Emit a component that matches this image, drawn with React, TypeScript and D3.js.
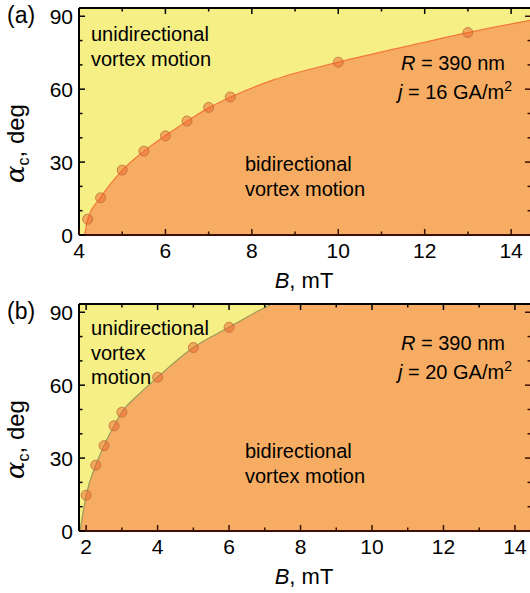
import React, { useEffect, useRef } from 'react';
import * as d3 from 'd3';

// panel (a), j = 16 GA/m2 : measured critical angles
const fieldA = [4.2, 4.5, 5, 5.5, 6, 6.5, 7, 7.5, 10, 13];
const angleA = [6.5, 15.3, 26.7, 34.5, 40.8, 46.9, 52.5, 56.8, 71.1, 83.3];
// boundary line
const edgeFieldA = [4.13, 4.2, 4.5, 5, 5.5, 6, 6.5, 7, 7.5, 8.5, 10, 11.5, 13, 14.46];
const edgeAngleA = [0, 6.3, 15.4, 26.6, 34.4, 40.9, 46.8, 52.3, 56.7, 63.8, 71.1, 77.3, 83.3, 88.4];

// panel (b), j = 20 GA/m2
const fieldB = [2, 2.27, 2.5, 2.78, 3, 4, 5, 6];
const angleB = [14.7, 27.1, 35.1, 43.3, 48.9, 63.3, 75.5, 83.8];
const edgeFieldB = [1.83, 2, 2.27, 2.5, 2.78, 3, 3.5, 4, 5, 6, 7.2, 7.8];
const edgeAngleB = [0, 14.7, 27.1, 35.1, 43.3, 48.9, 56.6, 63.3, 75.5, 83.8, 93.4, 97];

const xTicksA = [4, 6, 8, 10, 12, 14];
const xTicksB = [2, 4, 6, 8, 10, 12, 14];
const yTicks = [0, 30, 60, 90];
const yMinor = [10, 20, 40, 50, 70, 80];

const FONT = 'Liberation Sans, Arial, Helvetica, sans-serif';
const YELLOW = '#f5ef86';
const ORANGE = '#f6ad63';

function drawPanel(svg, p) {
  const x = d3.scaleLinear().domain(p.xDomain).range([p.left, p.right]);
  const y = d3.scaleLinear().domain([0, 93.4]).range([p.bottom, p.top]);
  const g = svg.append('g');
  const clipId = 'clip-' + p.key;

  g.append('clipPath').attr('id', clipId)
    .append('rect')
    .attr('x', p.left).attr('y', p.top)
    .attr('width', p.right - p.left).attr('height', p.bottom - p.top);

  const plot = g.append('g').attr('clip-path', `url(#${clipId})`);
  plot.append('rect')
    .attr('x', p.left).attr('y', p.top)
    .attr('width', p.right - p.left).attr('height', p.bottom - p.top)
    .attr('fill', YELLOW);

  const edge = p.edgeField.map((b, i) => [b, p.edgeAngle[i]]);
  const line = d3.line().x(d => x(d[0])).y(d => y(d[1])).curve(d3.curveMonotoneX);
  const last = edge[edge.length - 1];
  const xMax = p.xDomain[1];
  const areaPath = line(edge)
    + `L${x(xMax)},${y(last[1])}L${x(xMax)},${y(0)}L${x(edge[0][0])},${y(0)}Z`;
  plot.append('path').attr('d', areaPath).attr('fill', ORANGE);
  plot.append('path').attr('d', line(edge))
    .attr('fill', 'none').attr('stroke', p.lineColor).attr('stroke-width', 1.2);

  // points
  g.selectAll('circle.pt')
    .data(p.field.map((b, i) => [b, p.angle[i]]))
    .join('circle')
    .attr('class', 'pt')
    .attr('cx', d => x(d[0])).attr('cy', d => y(d[1]))
    .attr('r', 5)
    .attr('fill', 'rgba(238,100,45,0.5)')
    .attr('stroke', 'rgba(185,105,60,0.75)')
    .attr('stroke-width', 1);

  // frame
  const frame = g.append('g').attr('fill', 'none');
  frame.append('line').attr('x1', p.left).attr('x2', p.right).attr('y1', p.top).attr('y2', p.top)
    .attr('stroke', '#000').attr('stroke-width', 2);
  frame.append('line').attr('x1', p.left).attr('x2', p.right).attr('y1', p.bottom).attr('y2', p.bottom)
    .attr('stroke', '#3d0f05').attr('stroke-width', 2);
  frame.append('line').attr('x1', p.left).attr('x2', p.left).attr('y1', p.top).attr('y2', p.bottom)
    .attr('stroke', '#000').attr('stroke-width', 2);
  frame.append('line').attr('x1', p.right).attr('x2', p.right).attr('y1', p.top).attr('y2', p.bottom)
    .attr('stroke', '#000').attr('stroke-width', 2);

  // x ticks (major + minor) top and bottom, inward
  const xMinor = d3.range(Math.ceil(p.xDomain[0]), Math.floor(xMax) + 1).filter(v => v % 2 !== 0);
  const tk = g.append('g').attr('stroke-width', 1.5);
  p.xTicks.forEach(v => {
    tk.append('line').attr('x1', x(v)).attr('x2', x(v)).attr('y1', p.bottom).attr('y2', p.bottom - 6).attr('stroke', '#3d0f05');
    tk.append('line').attr('x1', x(v)).attr('x2', x(v)).attr('y1', p.top).attr('y2', p.top + 6).attr('stroke', '#000');
  });
  xMinor.forEach(v => {
    tk.append('line').attr('x1', x(v)).attr('x2', x(v)).attr('y1', p.bottom).attr('y2', p.bottom - 3.5).attr('stroke', '#3d0f05');
    tk.append('line').attr('x1', x(v)).attr('x2', x(v)).attr('y1', p.top).attr('y2', p.top + 3.5).attr('stroke', '#000');
  });
  yTicks.forEach(v => {
    tk.append('line').attr('x1', p.left).attr('x2', p.left + 6).attr('y1', y(v)).attr('y2', y(v)).attr('stroke', '#000');
    tk.append('line').attr('x1', p.right).attr('x2', p.right - 6).attr('y1', y(v)).attr('y2', y(v)).attr('stroke', '#3d0f05');
  });
  yMinor.forEach(v => {
    tk.append('line').attr('x1', p.left).attr('x2', p.left + 3.5).attr('y1', y(v)).attr('y2', y(v)).attr('stroke', '#000');
    tk.append('line').attr('x1', p.right).attr('x2', p.right - 3.5).attr('y1', y(v)).attr('y2', y(v)).attr('stroke', '#3d0f05');
  });

  // tick labels
  const txt = g.append('g').attr('font-family', FONT).attr('fill', '#000');
  txt.selectAll('text.xt').data(p.xTicks).join('text')
    .attr('class', 'xt')
    .attr('x', d => x(d)).attr('y', p.bottom + 23)
    .attr('text-anchor', 'middle').attr('font-size', 21)
    .text(d => d);
  txt.selectAll('text.yt').data(yTicks).join('text')
    .attr('class', 'yt')
    .attr('x', p.left - 6).attr('y', d => y(d)).attr('dy', '0.36em')
    .attr('text-anchor', 'end').attr('font-size', 21)
    .text(d => d);

  // axis titles
  const xt = txt.append('text')
    .attr('x', (p.left + 529) / 2).attr('y', p.bottom + 53)
    .attr('text-anchor', 'middle').attr('font-size', 22);
  xt.append('tspan').attr('font-style', 'italic').text('B');
  xt.append('tspan').text(', mT');

  const yt = txt.append('text')
    .attr('transform', `translate(24,${(p.top + p.bottom) / 2 + 22}) rotate(-90)`)
    .attr('text-anchor', 'middle').attr('font-size', 24);
  yt.append('tspan').attr('font-style', 'italic').attr('font-family', 'DejaVu Serif, serif').attr('font-size', 26).text('α');
  yt.append('tspan').attr('font-size', 16).attr('dy', 5).text('c');
  yt.append('tspan').attr('dy', -5).text(', deg');

  // panel letter
  txt.append('text').attr('x', 7).attr('y', p.top + 15).attr('font-size', 23).text(p.name);

  // region labels
  p.uniLines.forEach((s, i) => {
    txt.append('text').attr('x', 91).attr('y', p.uniY + i * 24.5).attr('font-size', 20).text(s);
  });
  p.biLines.forEach((s, i) => {
    txt.append('text').attr('x', 245).attr('y', p.biY + i * 25).attr('font-size', 20).text(s);
  });

  const r1 = txt.append('text').attr('x', 401).attr('y', p.annY).attr('font-size', 20);
  r1.append('tspan').attr('font-style', 'italic').text('R');
  r1.append('tspan').text(' = 390 nm');
  const r2 = txt.append('text').attr('x', 398).attr('y', p.annY + 28.5).attr('font-size', 20);
  r2.append('tspan').attr('font-style', 'italic').text('j');
  r2.append('tspan').text(` = ${p.current} GA/m`);
  r2.append('tspan').attr('font-size', 14).attr('dy', -8).text('2');
}

export default function App() {
  const ref = useRef(null);

  useEffect(() => {
    const svg = d3.select(ref.current);
    svg.selectAll('*').remove();

    drawPanel(svg, {
      key: 'a', name: '(a)', top: 8, bottom: 235, left: 79, right: 531,
      xDomain: [4, 14.46], xTicks: xTicksA,
      field: fieldA, angle: angleA, edgeField: edgeFieldA, edgeAngle: edgeAngleA,
      lineColor: '#f4763a',
      uniLines: ['unidirectional', 'vortex motion'], uniY: 41,
      biLines: ['bidirectional', 'vortex motion'], biY: 171,
      annY: 70, current: 16,
    });
    drawPanel(svg, {
      key: 'b', name: '(b)', top: 304, bottom: 531, left: 79, right: 531,
      xDomain: [1.8, 14.45], xTicks: xTicksB,
      field: fieldB, angle: angleB, edgeField: edgeFieldB, edgeAngle: edgeAngleB,
      lineColor: '#9c9a58',
      uniLines: ['unidirectional', 'vortex', 'motion'], uniY: 335,
      biLines: ['bidirectional', 'vortex motion'], biY: 458,
      annY: 350, current: 20,
    });
  }, []);

  return (
    <svg ref={ref} width={530} height={593}
      style={{ position: 'absolute', left: 0, top: 0, background: '#fff' }} />
  );
}
